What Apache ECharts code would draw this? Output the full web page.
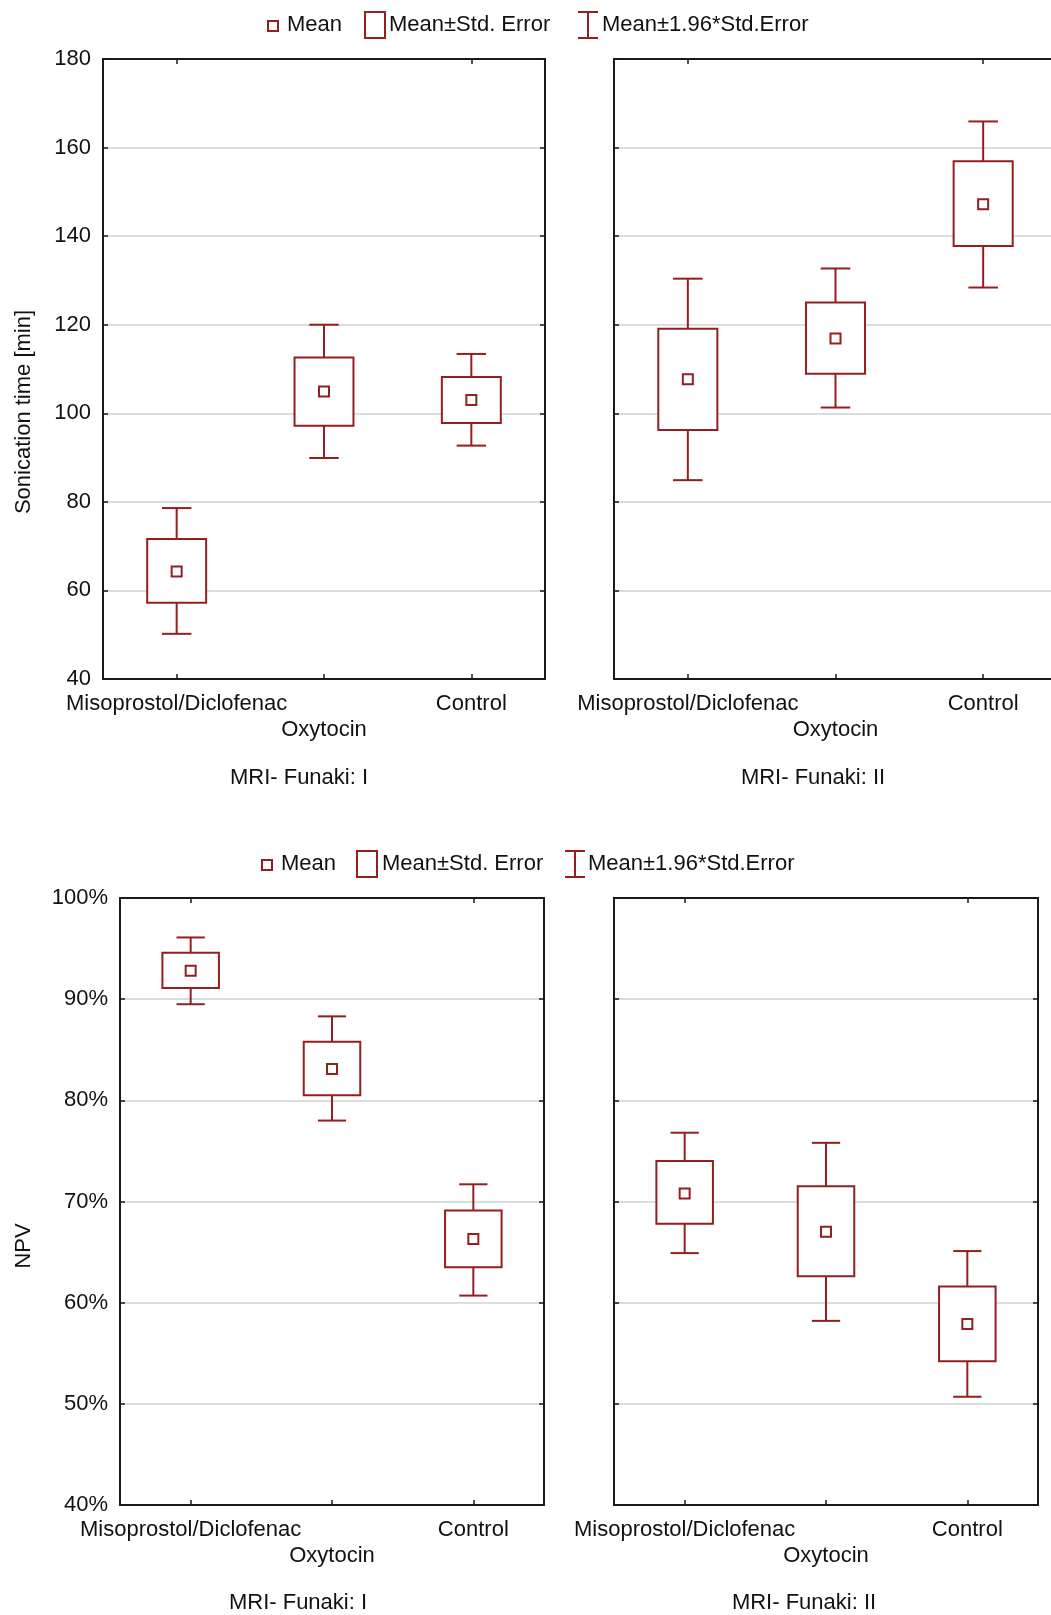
<!DOCTYPE html>
<html>
<head>
<meta charset="utf-8">
<script src="https://cdn.jsdelivr.net/npm/echarts@6/dist/echarts.min.js"></script>
<style>
html,body{margin:0;padding:0;background:#fff;overflow:hidden;}
#chart{width:1080px;height:1615px;}
</style>
</head>
<body>
<div id="chart"></div>
<script>
// ---------- DATA ----------
const categories = ['Misoprostol/Diclofenac', 'Oxytocin', 'Control'];
const panelTitles = ['MRI- Funaki: I', 'MRI- Funaki: II'];
const legendLabels = ['Mean', 'Mean\u00b1Std. Error', 'Mean\u00b11.96*Std.Error'];
const yNameTop = 'Sonication time [min]';
const yNameBottom = 'NPV';

// Sonication time [min], MRI-Funaki I
const sonI_mean   = [64.3, 104.9, 103.0];
const sonI_seLow  = [57.2, 97.2, 97.8];
const sonI_seHigh = [71.6, 112.6, 108.2];
const sonI_ciLow  = [50.2, 89.9, 92.7];
const sonI_ciHigh = [78.6, 120.0, 113.4];
// Sonication time [min], MRI-Funaki II
const sonII_mean   = [107.7, 116.9, 147.2];
const sonII_seLow  = [96.2, 108.9, 137.8];
const sonII_seHigh = [119.1, 125.0, 156.9];
const sonII_ciLow  = [84.9, 101.3, 128.4];
const sonII_ciHigh = [130.4, 132.7, 165.9];
// NPV [%], MRI-Funaki I
const npvI_mean   = [92.8, 83.1, 66.3];
const npvI_seLow  = [91.1, 80.5, 63.5];
const npvI_seHigh = [94.6, 85.8, 69.1];
const npvI_ciLow  = [89.5, 78.0, 60.7];
const npvI_ciHigh = [96.1, 88.3, 71.7];
// NPV [%], MRI-Funaki II
const npvII_mean   = [70.8, 67.0, 57.9];
const npvII_seLow  = [67.8, 62.6, 54.2];
const npvII_seHigh = [74.0, 71.5, 61.6];
const npvII_ciLow  = [64.9, 58.2, 50.7];
const npvII_ciHigh = [76.8, 75.8, 65.1];

// ---------- STYLE ----------
const RED = '#951e1e';
const FONT = '"Liberation Sans", Arial, sans-serif';
const TXT = '#111';
const AX = '#1a1a1a';

const panels = [
  {mean: sonI_mean, seLow: sonI_seLow, seHigh: sonI_seHigh, ciLow: sonI_ciLow, ciHigh: sonI_ciHigh,
   grid: {left: 103, top: 59, width: 442, height: 620}, y: {min: 40, max: 180, interval: 20, fmt: '{value}'}, labels: true},
  {mean: sonII_mean, seLow: sonII_seLow, seHigh: sonII_seHigh, ciLow: sonII_ciLow, ciHigh: sonII_ciHigh,
   grid: {left: 614, top: 59, width: 443, height: 620}, y: {min: 40, max: 180, interval: 20, fmt: '{value}'}, labels: false},
  {mean: npvI_mean, seLow: npvI_seLow, seHigh: npvI_seHigh, ciLow: npvI_ciLow, ciHigh: npvI_ciHigh,
   grid: {left: 120, top: 898, width: 424, height: 607}, y: {min: 40, max: 100, interval: 10, fmt: '{value}%'}, labels: true},
  {mean: npvII_mean, seLow: npvII_seLow, seHigh: npvII_seHigh, ciLow: npvII_ciLow, ciHigh: npvII_ciHigh,
   grid: {left: 614, top: 898, width: 424, height: 607}, y: {min: 40, max: 100, interval: 10, fmt: '{value}%'}, labels: false}
];

const lineStyle = {stroke: RED, lineWidth: 2, fill: null};

function whiskerRender(params, api) {
  const i = api.value(0);
  const lo = api.coord([i, api.value(1)]);
  const hi = api.coord([i, api.value(2)]);
  const bw = api.size([1, 0])[0];
  const cap = bw * 0.2;
  return {type: 'group', children: [
    {type: 'line', shape: {x1: lo[0], y1: lo[1], x2: hi[0], y2: hi[1]}, style: lineStyle},
    {type: 'line', shape: {x1: hi[0] - cap / 2, y1: hi[1], x2: hi[0] + cap / 2, y2: hi[1]}, style: lineStyle},
    {type: 'line', shape: {x1: lo[0] - cap / 2, y1: lo[1], x2: lo[0] + cap / 2, y2: lo[1]}, style: lineStyle}
  ]};
}
function boxRender(params, api) {
  const i = api.value(0);
  const lo = api.coord([i, api.value(1)]);
  const hi = api.coord([i, api.value(2)]);
  const bw = api.size([1, 0])[0] * 0.4;
  return {type: 'rect', shape: {x: lo[0] - bw / 2, y: hi[1], width: bw, height: lo[1] - hi[1]},
          style: {fill: '#fff', stroke: RED, lineWidth: 2}};
}
function meanRender(params, api) {
  const i = api.value(0);
  const p = api.coord([i, api.value(1)]);
  const s = 10;
  return {type: 'rect', shape: {x: p[0] - s / 2, y: p[1] - s / 2, width: s, height: s},
          style: {fill: '#fff', stroke: RED, lineWidth: 2}};
}

const grids = [], xAxes = [], yAxes = [], series = [];
panels.forEach((p, k) => {
  grids.push(p.grid);
  const tick = {show: true, inside: true, length: 5, alignWithLabel: true, lineStyle: {color: AX, width: 1.5}};
  xAxes.push({type: 'category', gridIndex: k, data: categories, position: 'bottom',
    axisLine: {show: true, lineStyle: {color: AX, width: 2}}, axisTick: tick,
    axisLabel: {show: true, interval: 0, margin: 12, fontSize: 22, fontFamily: FONT, color: TXT, lineHeight: 26,
      formatter: (v, idx) => idx === 1 ? '\n' + v : v}});
  xAxes.push({type: 'category', gridIndex: k, data: categories, position: 'top',
    axisLine: {show: true, lineStyle: {color: AX, width: 2}}, axisTick: tick, axisLabel: {show: false}});
  const yt = {show: true, inside: true, length: 5, lineStyle: {color: AX, width: 1.5}};
  yAxes.push({type: 'value', gridIndex: k, position: 'left', min: p.y.min, max: p.y.max, interval: p.y.interval,
    axisLine: {show: true, lineStyle: {color: AX, width: 2}}, axisTick: yt,
    splitLine: {show: true, lineStyle: {color: '#d2d2d2', width: 1.5}},
    axisLabel: {show: p.labels, margin: 12, fontSize: 22, fontFamily: FONT, color: TXT, formatter: p.y.fmt}});
  yAxes.push({type: 'value', gridIndex: k, position: 'right', min: p.y.min, max: p.y.max, interval: p.y.interval,
    axisLine: {show: true, lineStyle: {color: AX, width: 2}}, axisTick: yt,
    splitLine: {show: false}, axisLabel: {show: false}});
  const xi = 2 * k, yi = 2 * k;
  series.push({type: 'custom', name: legendLabels[2], xAxisIndex: xi, yAxisIndex: yi, z: 2,
    renderItem: whiskerRender, encode: {x: 0, y: [1, 2]},
    data: categories.map((c, i) => [i, p.ciLow[i], p.ciHigh[i]])});
  series.push({type: 'custom', name: legendLabels[1], xAxisIndex: xi, yAxisIndex: yi, z: 3,
    renderItem: boxRender, encode: {x: 0, y: [1, 2]},
    data: categories.map((c, i) => [i, p.seLow[i], p.seHigh[i]])});
  series.push({type: 'custom', name: legendLabels[0], xAxisIndex: xi, yAxisIndex: yi, z: 4,
    renderItem: meanRender, encode: {x: 0, y: 1},
    data: categories.map((c, i) => [i, p.mean[i]])});
});

function txt(x, y, text, align, extra) {
  return Object.assign({type: 'text', x: x, y: y, silent: true,
    style: {text: text, align: align || 'left', verticalAlign: 'middle', fill: TXT,
      font: '22px ' + FONT}}, extra || {});
}
function legendGraphics(cy, xs) {
  const g = [];
  g.push({type: 'rect', shape: {x: xs[0] - 5, y: cy - 4, width: 10, height: 10},
    style: {fill: '#fff', stroke: RED, lineWidth: 2}});
  g.push(txt(xs[1], cy, legendLabels[0]));
  g.push({type: 'rect', shape: {x: xs[2], y: cy - 13, width: 20, height: 26},
    style: {fill: '#fff', stroke: RED, lineWidth: 2}});
  g.push(txt(xs[3], cy, legendLabels[1]));
  g.push({type: 'polyline', shape: {points: [[xs[4], cy - 13], [xs[4], cy + 13]]}, style: {stroke: RED, lineWidth: 2}});
  g.push({type: 'polyline', shape: {points: [[xs[4] - 10, cy - 13], [xs[4] + 10, cy - 13]]}, style: {stroke: RED, lineWidth: 2}});
  g.push({type: 'polyline', shape: {points: [[xs[4] - 10, cy + 13], [xs[4] + 10, cy + 13]]}, style: {stroke: RED, lineWidth: 2}});
  g.push(txt(xs[5], cy, legendLabels[2]));
  return g;
}

const graphics = [].concat(
  legendGraphics(25, [273, 287, 365, 389, 588, 602]),
  legendGraphics(864, [267, 281, 357, 382, 575, 588]),
  [
    txt(299, 778, panelTitles[0], 'center'),
    txt(813, 778, panelTitles[1], 'center'),
    txt(298, 1603, panelTitles[0], 'center'),
    txt(804, 1603, panelTitles[1], 'center'),
    txt(24, 412, yNameTop, 'center', {rotation: Math.PI / 2}),
    txt(24, 1246, yNameBottom, 'center', {rotation: Math.PI / 2})
  ]
);

const chart = echarts.init(document.getElementById('chart'), null, {renderer: 'canvas'});
chart.setOption({
  animation: false,
  backgroundColor: '#fff',
  grid: grids,
  xAxis: xAxes,
  yAxis: yAxes,
  series: series,
  graphic: graphics
});
</script>
</body>
</html>
